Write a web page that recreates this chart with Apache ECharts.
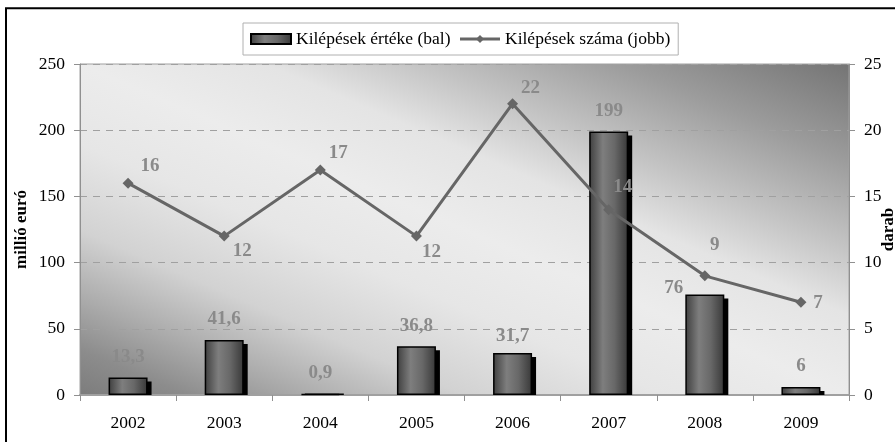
<!DOCTYPE html>
<html>
<head>
<meta charset="utf-8">
<script src="https://cdn.jsdelivr.net/npm/echarts@6/dist/echarts.min.js"></script>
<style>html,body{margin:0;padding:0;background:#fff}#c{width:895px;height:442px}</style>
</head>
<body>
<div id="c"></div>
<script>
const categories = ['2002','2003','2004','2005','2006','2007','2008','2009'];
const exitValues = [13.3, 41.6, 0.9, 36.8, 31.7, 199, 76, 6];
const exitCounts = [16, 12, 17, 12, 22, 14, 9, 7];
const leftTicks = [0, 250, 50];
const rightTicks = [0, 25, 5];

// label placement (style only)
const barLabelOffsets = [[0,0],[0,0],[0,0],[0,0],[0,4],[0,0],[-31,14],[0,0]];
const lineLabelOffsets = [[22,-17],[18,15],[18,-17],[15,16],[18,-16],[14,-23],[10,-31],[17,1]];

const FONT = '"Liberation Serif", "Times New Roman", serif';
const BAR_W = 39;
const barFill = {type:'linear', x:0, y:0, x2:1, y2:0, colorStops:[
  {offset:0, color:'#3e3e3e'},{offset:0.35, color:'#7e7e7e'},{offset:0.65, color:'#686868'},{offset:1, color:'#383838'}]};
const bgFill = {type:'linear', x:0.3437, y:1.3435, x2:0.6563, y2:-0.3435, colorStops:[
  {offset:0, color:'#7c7c7c'},{offset:0.07, color:'#8c8c8c'},{offset:0.15, color:'#acacac'},
  {offset:0.25, color:'#d2d2d2'},{offset:0.38, color:'#e6e6e6'},{offset:0.5, color:'#ececec'},
  {offset:0.62, color:'#e4e4e4'},{offset:0.72, color:'#c4c4c4'},{offset:0.85, color:'#9c9c9c'},{offset:1, color:'#747474'}]};

const chart = echarts.init(document.getElementById('c'), null, {renderer:'canvas'});
chart.setOption({
  animation:false,
  backgroundColor:'#fff',
  textStyle:{fontFamily:FONT},
  graphic:[{type:'rect', silent:true, z:100, shape:{x:6, y:8.3, width:900, height:460},
    style:{fill:'none', stroke:'#000', lineWidth:2}}],
  legend:{
    data:[{name:'Kilépések értéke (bal)', icon:'rect'},{name:'Kilépések száma (jobb)'}],
    left:243, top:23, padding:[7,8,7,7], itemGap:8, itemWidth:40, itemHeight:10,
    backgroundColor:'#fff', borderColor:'#b0b0b0', borderWidth:1,
    lineStyle:{width:3},
    textStyle:{fontFamily:FONT, fontSize:17.5, color:'#000'}
  },
  grid:{left:80, right:46, top:64, bottom:47, outerBoundsMode:'none', containLabel:false,
    show:true, backgroundColor:bgFill, borderColor:'#a0a0a0', borderWidth:1},
  xAxis:{
    type:'category', data:categories,
    axisLine:{lineStyle:{color:'#a0a0a0', width:2}},
    axisTick:{show:true, length:6, lineStyle:{color:'#909090'}},
    axisLabel:{fontFamily:FONT, fontSize:17.5, color:'#000', margin:19}
  },
  yAxis:[{
    type:'value', min:leftTicks[0], max:leftTicks[1], interval:leftTicks[2],
    name:'millió euró', nameLocation:'middle', nameRotate:90, nameGap:50, nameMoveOverlap:false,
    nameTextStyle:{fontFamily:FONT, fontSize:17, fontWeight:'bold', color:'#000'},
    axisLine:{show:true, lineStyle:{color:'#909090', width:1}},
    axisTick:{show:true, length:6, lineStyle:{color:'#909090'}},
    axisLabel:{fontFamily:FONT, fontSize:17.5, color:'#000', margin:15},
    splitLine:{show:true, lineStyle:{color:'#a0a0a0', type:[7,6], width:1}}
  },{
    type:'value', min:rightTicks[0], max:rightTicks[1], interval:rightTicks[2],
    name:'darab', nameLocation:'middle', nameRotate:90, nameGap:31, nameMoveOverlap:false,
    nameTextStyle:{fontFamily:FONT, fontSize:17, fontWeight:'bold', color:'#000'},
    axisLine:{show:true, lineStyle:{color:'#909090', width:1}},
    axisTick:{show:true, length:6, lineStyle:{color:'#909090'}},
    axisLabel:{fontFamily:FONT, fontSize:17.5, color:'#000', margin:15},
    splitLine:{show:false}
  }],
  series:[{
    type:'custom', z:1, silent:true,
    data:exitValues.map((v,i)=>[i,v]),
    renderItem:function(params, api){
      const base = api.coord([api.value(0), 0]);
      const top = api.coord([api.value(0), api.value(1)]);
      const y1 = Math.min(top[1] + 4, base[1] - 1.5);
      return {type:'rect', shape:{x:base[0]-BAR_W/2+4, y:y1, width:BAR_W, height:base[1]-y1}, style:{fill:'#000'}};
    }
  },{
    name:'Kilépések értéke (bal)', type:'bar', z:2, barWidth:BAR_W,
    itemStyle:{color:barFill, borderColor:'#000', borderWidth:1.5},
    data:exitValues.map((v,i)=>({value:v, label:{offset:barLabelOffsets[i]}})),
    label:{show:true, position:'top', distance:11, fontFamily:FONT, fontSize:19, fontWeight:'bold', color:'#8a8a8a',
      formatter:p=>String(p.value).replace('.', ',')}
  },{
    name:'Kilépések száma (jobb)', type:'line', yAxisIndex:1, z:3,
    symbol:'diamond', symbolSize:11,
    lineStyle:{color:'#666', width:3}, itemStyle:{color:'#666'},
    data:exitCounts.map((v,i)=>({value:v, label:{offset:lineLabelOffsets[i]}})),
    label:{show:true, position:'inside', fontFamily:FONT, fontSize:19, fontWeight:'bold', color:'#8a8a8a'}
  }]
});
</script>
</body>
</html>
